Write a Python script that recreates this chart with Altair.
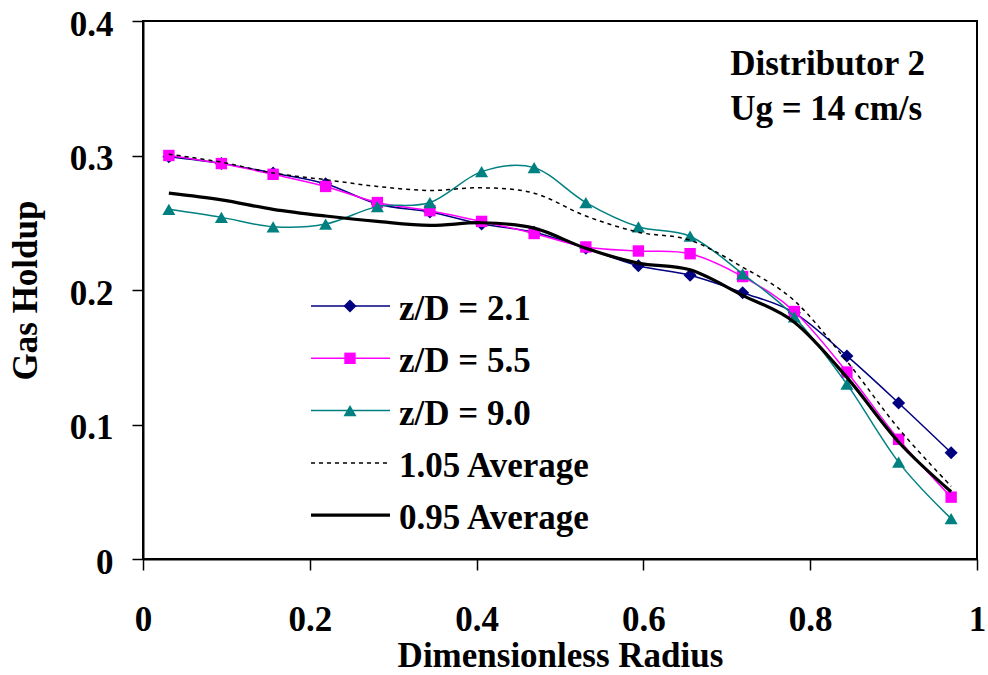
import altair as alt
import pandas as pd

# ---------------- data ----------------
radius = [0.031, 0.094, 0.156, 0.219, 0.281, 0.344, 0.406, 0.469,
          0.531, 0.594, 0.656, 0.719, 0.781, 0.844, 0.906, 0.969]
holdup_21 = [0.299, 0.294, 0.287, 0.279, 0.264, 0.258, 0.249, 0.243,
             0.231, 0.218, 0.211, 0.198, 0.183, 0.151, 0.116, 0.079]
holdup_55 = [0.300, 0.294, 0.286, 0.277, 0.265, 0.259, 0.251, 0.242,
             0.232, 0.229, 0.227, 0.210, 0.184, 0.139, 0.089, 0.046]
holdup_90 = [0.260, 0.254, 0.247, 0.249, 0.262, 0.265, 0.288, 0.291,
             0.265, 0.247, 0.240, 0.212, 0.180, 0.130, 0.072, 0.030]
avg_105 = [0.301, 0.295, 0.287, 0.282, 0.277, 0.274, 0.276, 0.272,
           0.255, 0.243, 0.237, 0.217, 0.192, 0.147, 0.097, 0.054]
avg_095 = [0.272, 0.267, 0.260, 0.255, 0.251, 0.248, 0.250, 0.246,
           0.231, 0.220, 0.215, 0.196, 0.176, 0.135, 0.087, 0.050]

series_names = ["z/D = 2.1", "z/D = 5.5", "z/D = 9.0", "1.05 Average", "0.95 Average"]
series_values = [holdup_21, holdup_55, holdup_90, avg_105, avg_095]

x_ticks = [0, 0.2, 0.4, 0.6, 0.8, 1]
y_ticks = [0, 0.1, 0.2, 0.3, 0.4]
annotation_lines = ["Distributor 2", "Ug = 14 cm/s"]

# ---------------- styling ----------------
W, H = 834, 538
FONT = "Liberation Serif"
FS = 35

styles = {
    "z/D = 2.1": dict(color="#000080", width=1.5, dash=None, shape="diamond", size=170),
    "z/D = 5.5": dict(color="#FF00FF", width=1.5, dash=None, shape="square", size=130),
    "z/D = 9.0": dict(color="#008080", width=1.5, dash=None, shape="triangle-up", size=170),
    "1.05 Average": dict(color="#000000", width=1.5, dash=[4, 4], shape=None, size=0),
    "0.95 Average": dict(color="#000000", width=3.2, dash=None, shape=None, size=0),
}

rows = []
for name, vals in zip(series_names, series_values):
    for xv, yv in zip(radius, vals):
        rows.append({"series": name, "r": xv, "h": yv})
df = pd.DataFrame(rows)

x_scale = alt.Scale(domain=[0, 1], nice=False, zero=False)
y_scale = alt.Scale(domain=[0, 0.4], nice=False, zero=False)

x_axis = alt.Axis(
    title="Dimensionless Radius", values=x_ticks, format="~g", grid=False,
    tickSize=11, tickColor="black", tickWidth=1.5, labelPadding=32,
    labelFont=FONT, labelFontSize=FS, labelFontWeight="bold", labelColor="black",
    labelFlush=False, labelOverlap=False,
    titleFont=FONT, titleFontSize=FS, titleFontWeight="bold", titleColor="black",
    titleBaseline="alphabetic", titleY=107, titleX=W / 2,
    domainColor="black", domainWidth=2,
)
y_axis = alt.Axis(
    title="Gas Holdup", values=y_ticks, format="~g", grid=False,
    tickSize=11, tickColor="black", tickWidth=1.5, labelPadding=19, labelOffset=3,
    labelFont=FONT, labelFontSize=FS, labelFontWeight="bold", labelColor="black",
    labelFlush=False, labelOverlap=False,
    titleFont=FONT, titleFontSize=FS, titleFontWeight="bold", titleColor="black",
    titleAngle=270, titleAlign="center", titleBaseline="middle",
    titleX=-118, titleY=269,
    domainColor="black", domainWidth=2,
)


def X(field):
    return alt.X(field, scale=x_scale, axis=x_axis)


def Y(field):
    return alt.Y(field, scale=y_scale, axis=y_axis)


layers = []
for name in series_names:
    st = styles[name]
    sub = df[df["series"] == name]
    line_kwargs = dict(interpolate="cardinal", color=st["color"], strokeWidth=st["width"], clip=True)
    if st["dash"]:
        line_kwargs["strokeDash"] = st["dash"]
    layers.append(alt.Chart(sub).mark_line(**line_kwargs).encode(x=X("r:Q"), y=Y("h:Q")))
    if st["shape"]:
        layers.append(
            alt.Chart(sub).mark_point(shape=st["shape"], filled=True, size=st["size"],
                                      color=st["color"], opacity=1)
            .encode(x=X("r:Q"), y=Y("h:Q"))
        )

# ---------------- annotation ----------------
ann_df = pd.DataFrame({"text": annotation_lines, "r": [0.704, 0.704], "h": [0.360, 0.3265]})
layers.append(
    alt.Chart(ann_df).mark_text(align="left", baseline="alphabetic", font=FONT,
                                fontSize=FS, fontWeight="bold", color="black")
    .encode(x=X("r:Q"), y=Y("h:Q"), text="text:N")
)

# ---------------- manual legend ----------------
LEG_TOP = 285
LEG_STEP = 52.3
LX1, LX2, LMID, LTX = 168, 247, 207, 256
for i, name in enumerate(series_names):
    st = styles[name]
    yy = LEG_TOP + i * LEG_STEP
    one = alt.Data(values=[{"label": name}])
    rk = dict(color=st["color"], strokeWidth=st["width"])
    if st["dash"]:
        rk["strokeDash"] = st["dash"]
    layers.append(alt.Chart(one).mark_rule(**rk).encode(
        x=alt.value(LX1), x2=alt.value(LX2), y=alt.value(yy)))
    if st["shape"]:
        layers.append(alt.Chart(one).mark_point(shape=st["shape"], filled=True, size=st["size"],
                                                color=st["color"], opacity=1)
                      .encode(x=alt.value(LMID), y=alt.value(yy)))
    layers.append(alt.Chart(one).mark_text(align="left", baseline="alphabetic", font=FONT,
                                           fontSize=FS, fontWeight="bold", color="black")
                  .encode(x=alt.value(LTX), y=alt.value(yy + 14), text="label:N"))

chart = alt.layer(*layers).properties(
    width=W, height=H,
    autosize=alt.AutoSizeParams(type="none"),
    padding={"left": 143, "top": 21, "right": 11, "bottom": 116},
    background="white",
).configure_view(stroke="black", strokeWidth=2)

chart.save("out.html", embed_options={"renderer": "svg", "actions": False})
